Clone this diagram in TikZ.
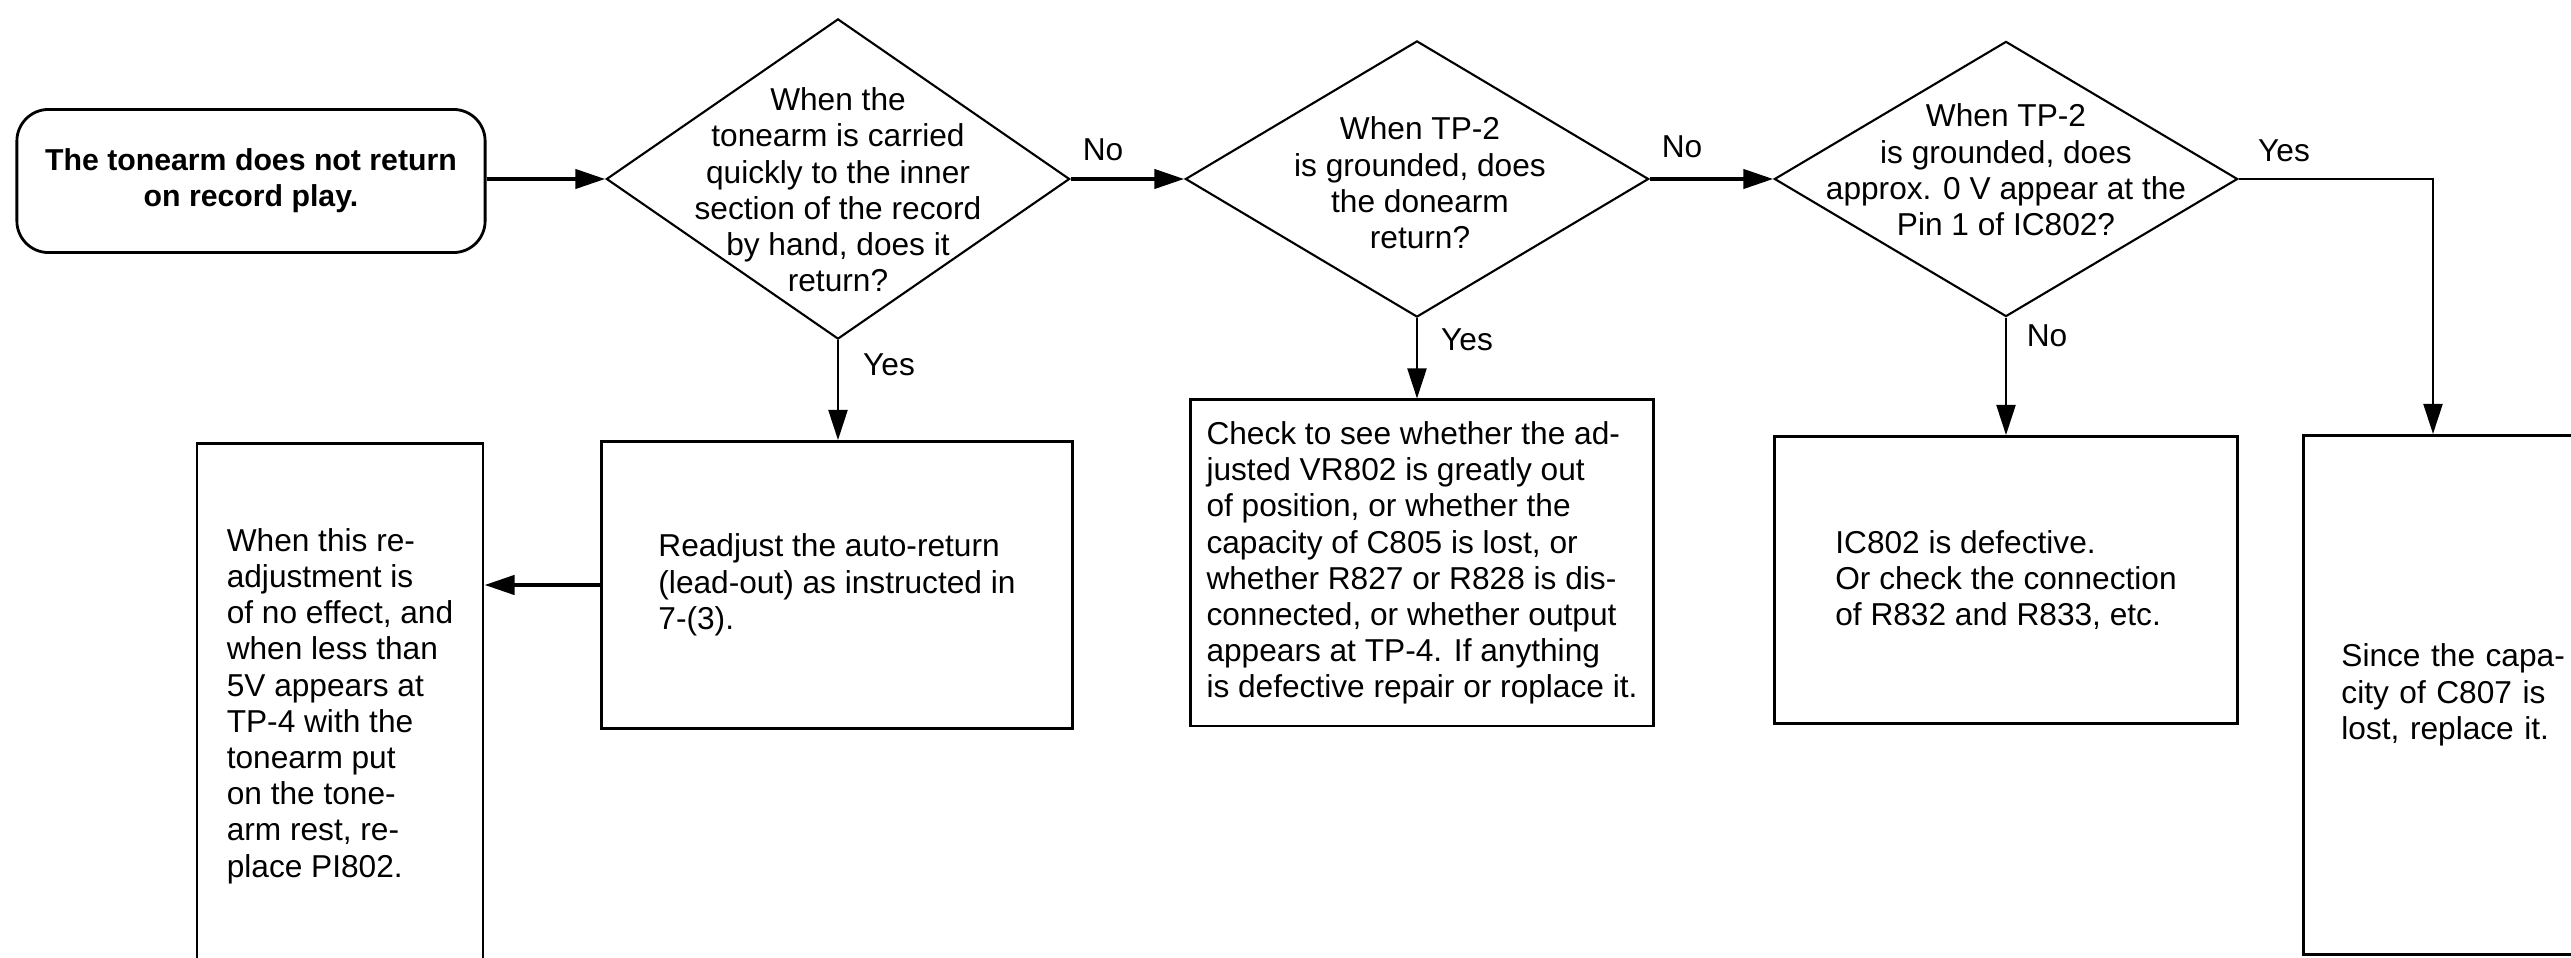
\documentclass[tikz,border=0pt]{standalone}
\usepackage{fontspec}
\setmainfont{Liberation Sans}
\usetikzlibrary{shapes.geometric,arrows.meta}

\begin{document}
\begin{tikzpicture}[x=0.01cm,y=-0.01cm,font=\fontsize{9}{10.3}\selectfont,
    box/.style={draw,line width=0.8pt,inner sep=0pt,align=left},
    dia/.style={draw,diamond,line width=0.6pt,inner sep=0pt,minimum width=4.63cm},
    qtext/.style={align=center,inner sep=0pt},
    lbl/.style={inner sep=0pt},
    arr/.style={line width=0.6pt,-{Triangle[length=3mm,width=1.9mm]}},
    thickarr/.style={arr,line width=1.2pt}]
    \useasboundingbox (0,0) rectangle (2571,958);

    \node[box,rounded corners=9pt,minimum width=4.68cm,minimum height=1.43cm,align=center,
        font=\fontsize{8.6}{10.3}\selectfont\bfseries] (start) at (251,181)
        {The tonearm does not return\\on record play.};

    \foreach \name/\x/\h in {q1/838/3.20, q2/1417/2.76, q3/2006/2.75} {
        \node[dia,minimum height=\h cm] (\name) at (\x,179) {};
    }
    \node[qtext] (q1t) at (838,190) {When the\\tonearm is carried\\quickly to the inner\\section of the record\\by hand, does it\\return?};
    \node[qtext] (q2t) at (1420,183) {When TP-2\\is grounded, does\\the donearm\\return?};
    \node[qtext] (q3t) at (2006,170) {When TP-2\\is grounded, does\\approx. 0 V appear at the\\Pin 1 of IC802?};

    \node[box,minimum width=4.71cm,minimum height=2.87cm] (readj) at (837,585)
        {Readjust the auto-return\\(lead-out) as instructed in\\7-(3).};
    \node[box,minimum width=2.86cm,minimum height=5.24cm] (redo) at (340,706)
        {When this re-\\adjustment is\\of no effect, and\\when less than\\5V appears at\\TP-4 with the\\tonearm put\\on the tone-\\arm rest, re-\\place PI802.};
    \node[box,minimum width=4.63cm,minimum height=3.26cm] (check) at (1422,563)
        {Check to see whether the ad-\\justed VR802 is greatly out\\of position, or whether the\\capacity of C805 is lost, or\\whether R827 or R828 is dis-\\connected, or whether output\\appears at TP-4. If anything\\is defective repair or roplace it.};
    \node[box,minimum width=4.63cm,minimum height=2.87cm] (icbad) at (2006,580)
        {IC802 is defective.\\Or check the connection\\of R832 and R833, etc.};
    \node[box,text width=2.79cm,inner xsep=0.38cm,minimum height=5.19cm] (since) at (2481,695)
        {Since the capa-\\city of C807 is\\lost, replace it.};
    \coordinate (drop) at (2433,179);

    \draw[thickarr] (q1.west -| start.east) -- (q1.west);
    \draw[thickarr] (q1.east) -- (q2.west);
    \draw[thickarr] (q2.east) -- (q3.west);
    \draw[thickarr] (readj.west) -- (redo.east |- readj.west);
    \draw[arr] (q1.south) -- (q1.south |- readj.north);
    \draw[arr] (q2.south) -- (q2.south |- check.north);
    \draw[arr] (q3.south) -- (q3.south |- icbad.north);
    \draw[arr] (q3.east) -- (drop) -- (drop |- since.north);

    \node[lbl] (no1) at (1103,150) {No};
    \node[lbl] (no2) at (1682,147) {No};
    \node[lbl] (no3) at (2047,336) {No};
    \node[lbl] (yes1) at (889,365) {Yes};
    \node[lbl] (yes2) at (1467,340) {Yes};
    \node[lbl] (yes3) at (2284,151) {Yes};
\end{tikzpicture}
\end{document}
